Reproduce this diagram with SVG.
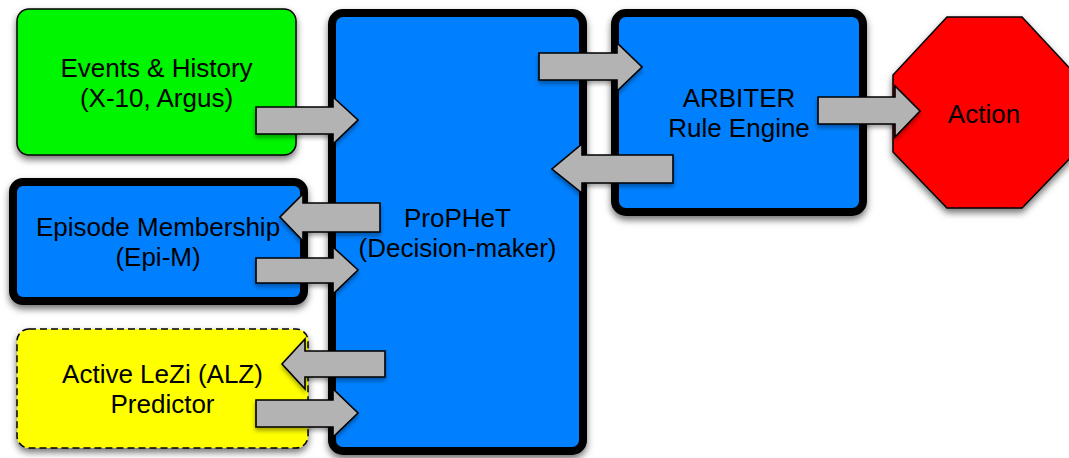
<svg xmlns="http://www.w3.org/2000/svg" width="1069" height="458" viewBox="0 0 1069 458">
  <defs>
    <filter id="shadow" x="-10%" y="-10%" width="120%" height="125%">
      <feDropShadow dx="0" dy="4" stdDeviation="3.5" flood-color="#000" flood-opacity="0.55"/>
    </filter>
    <filter id="shadowSmall" x="-10%" y="-20%" width="120%" height="150%">
      <feDropShadow dx="0" dy="3" stdDeviation="2" flood-color="#000" flood-opacity="0.35"/>
    </filter>
  </defs>
  <style>
    .label { font-family: "Liberation Sans", Arial, Helvetica, sans-serif; font-size: 26px; fill: #000; text-anchor: middle; }
    .thick { stroke: #000; stroke-width: 8; }
    .thin { stroke: #000; stroke-width: 1.5; }
    .blue { fill: #0080ff; }
    .arrow { fill: #b3b3b3; stroke: #000; stroke-width: 1.6; stroke-linejoin: miter; filter: url(#shadowSmall); }
  </style>
  <rect width="1069" height="458" fill="#fff"/>

  <!-- Input: events and history -->
  <g id="events">
    <rect x="17" y="9" width="279" height="146" rx="12" fill="#00f500" class="thin" filter="url(#shadow)"/>
    <text class="label" x="156.5" y="77">Events &amp; History</text>
    <text class="label" x="156.5" y="107">(X-10, Argus)</text>
  </g>

  <!-- Episode membership module -->
  <g id="episode">
    <rect x="13" y="182" width="291" height="119" rx="10" class="thick blue" filter="url(#shadow)"/>
    <text class="label" x="158" y="236">Episode Membership</text>
    <text class="label" x="158" y="266">(Epi-M)</text>
  </g>

  <!-- Active LeZi predictor -->
  <g id="alz">
    <rect x="17" y="329" width="291" height="119" rx="12" fill="#ffff00" class="thin" stroke-dasharray="7 4" filter="url(#shadow)"/>
    <text class="label" x="162.5" y="383">Active LeZi (ALZ)</text>
    <text class="label" x="162.5" y="413">Predictor</text>
  </g>

  <!-- Central decision-maker -->
  <g id="prophet">
    <rect x="332" y="13" width="251" height="438" rx="11" class="thick blue" filter="url(#shadow)"/>
    <text class="label" x="457.5" y="227">ProPHeT</text>
    <text class="label" x="457.5" y="257">(Decision-maker)</text>
  </g>

  <!-- Rule engine -->
  <g id="arbiter">
    <rect x="615" y="13" width="248" height="199" rx="11" class="thick blue" filter="url(#shadow)"/>
    <text class="label" x="739" y="107">ARBITER</text>
    <text class="label" x="739" y="137">Rule Engine</text>
  </g>

  <!-- Output action -->
  <g id="action">
    <polygon points="947,17 1022,17 1076,75 1076,152 1022,208 947,208 893,152 893,75" fill="#ff0000" class="thin" filter="url(#shadow)"/>
    <text class="label" x="984" y="123">Action</text>
  </g>

  <!-- Block arrows between modules -->
  <g id="connectors">
    <!-- events -> ProPHeT -->
    <polygon class="arrow" points="256,107 333,107 333,97 358,120 333,144 333,134 256,134"/>
    <!-- ProPHeT -> Epi-M -->
    <polygon class="arrow" points="380,203 303,203 303,194 280,217 303,241 303,232 380,232"/>
    <!-- Epi-M -> ProPHeT -->
    <polygon class="arrow" points="256,258 333,258 333,247 358,270 333,294 333,283 256,283"/>
    <!-- ProPHeT -> ALZ -->
    <polygon class="arrow" points="385,351 305,351 305,339 282,364 305,389 305,377 385,377"/>
    <!-- ALZ -> ProPHeT -->
    <polygon class="arrow" points="256,400 333,400 333,389 358,413 333,437 333,427 256,427"/>
    <!-- ProPHeT -> ARBITER -->
    <polygon class="arrow" points="539,53 617,53 617,43 642,67 617,91 617,80 539,80"/>
    <!-- ARBITER -> ProPHeT -->
    <polygon class="arrow" points="673,155 582,155 582,144 552,169 582,193 582,183 673,183"/>
    <!-- ARBITER -> Action -->
    <polygon class="arrow" points="818,97 895,97 895,86 920,111 895,137 895,124 818,124"/>
  </g>
</svg>
